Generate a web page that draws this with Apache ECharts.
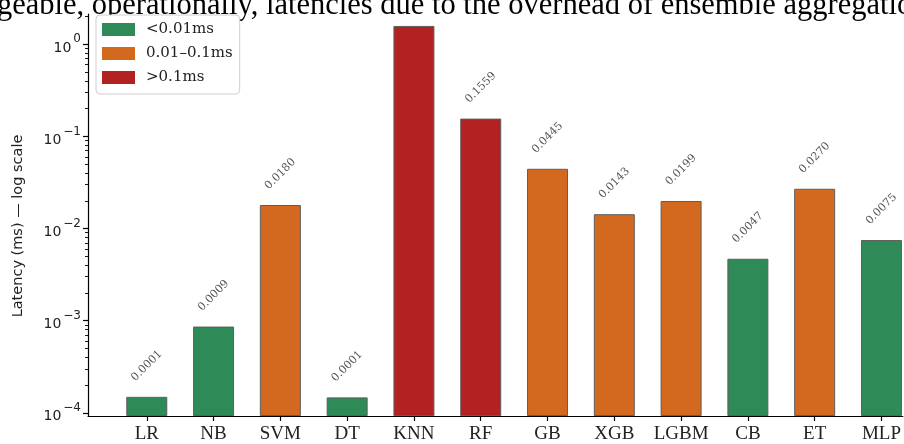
<!DOCTYPE html>
<html>
<head>
<meta charset="utf-8">
<script src="https://cdn.jsdelivr.net/npm/echarts@6/dist/echarts.min.js"></script>
<style>
  html, body { margin: 0; padding: 0; background: #fff; }
  #chart { width: 904px; height: 444px; }
</style>
</head>
<body>
<div id="chart"></div>
<script>
// Inference latency per model (milliseconds), log scale
const models = ['LR', 'NB', 'SVM', 'DT', 'KNN', 'RF', 'GB', 'XGB', 'LGBM', 'CB', 'ET', 'MLP'];
const latencyMs = [0.000149, 0.000863, 0.0180, 0.000147, 1.58, 0.1559, 0.0445, 0.0143, 0.0199, 0.0047, 0.0270, 0.0075];
// latency tier of each model: 0 = <0.01ms, 1 = 0.01–0.1ms, 2 = >0.1ms
const tierOf = [0, 0, 1, 0, 2, 2, 1, 1, 1, 0, 1, 0];
const tierNames = ['<0.01ms', '0.01–0.1ms', '>0.1ms'];
const tierColors = ['#2e8b57', '#d2691e', '#b22222'];
// models whose value label sits outside the visible area
const unlabeled = ['KNN'];

// y axis: decade ticks and the 2..9 minor ticks inside each decade
const yMajorTicks = [1e-4, 1e-3, 1e-2, 1e-1, 1];
const yMinorSteps = [2, 3, 4, 5, 6, 7, 8, 9];
const yMin = 9.23e-5;
const yMax = 2.13;
const yAxisTitle = 'Latency (ms) — log scale';

// running text of the page above the figure
const pageText = 'geable, operationally, latencies due to the overhead of ensemble aggregation';

const yMinorTicks = [];
yMajorTicks.forEach(d => yMinorSteps.forEach(s => { if (d * s <= yMax) yMinorTicks.push(d * s); }));
const xTicks = models.map((_, i) => i);

const serif = 'DejaVu Serif';
const sans = 'DejaVu Sans';
const ink = '#222';

const series = tierNames.map((name, t) => ({
  name,
  type: 'bar',
  yAxisIndex: 0,
  barWidth: 41,
  barGap: '-100%',
  itemStyle: { color: tierColors[t], borderColor: '#5e5e5e', borderWidth: 1 },
  label: {
    show: true,
    position: 'top',
    distance: 31,
    rotate: 45,
    align: 'center',
    verticalAlign: 'middle',
    fontFamily: serif,
    fontSize: 11,
    color: '#555',
    formatter: p => p.value[1].toFixed(4)
  },
  data: models
    .map((m, i) => ({ m, i }))
    .filter(d => tierOf[d.i] === t)
    .map(d => ({
      value: [d.i, latencyMs[d.i]],
      label: unlabeled.includes(d.m) ? { show: false } : undefined
    }))
}));

const supDigits = e => (e < 0 ? '−' + (-e) : String(e));

const logAxisBase = {
  type: 'log',
  logBase: 10,
  position: 'left',
  min: yMin,
  max: yMax,
  startValue: yMin,
  splitLine: { show: false }
};

const chart = echarts.init(document.getElementById('chart'), null, { renderer: 'canvas' });
chart.setOption({
  animation: false,
  backgroundColor: '#fff',
  grid: { left: 88, top: 14, right: 0, height: 402.5, containLabel: false },
  legend: {
    orient: 'vertical',
    left: 96,
    top: 15,
    icon: 'rect',
    itemWidth: 33,
    itemHeight: 13,
    itemGap: 9,
    padding: [7, 7, 9, 6],
    backgroundColor: '#fff',
    borderColor: '#cfcfcf',
    borderWidth: 1,
    borderRadius: 4,
    itemStyle: { borderWidth: 0 },
    textStyle: { fontFamily: serif, fontSize: 15, color: ink, padding: [0, 0, 0, 6] },
    data: tierNames
  },
  xAxis: {
    type: 'value',
    min: -0.88,
    max: 11.32,
    axisLine: { show: true, onZero: false, lineStyle: { color: '#000', width: 1.2 } },
    axisTick: { show: true, length: 5, customValues: xTicks, lineStyle: { color: '#000', width: 1.2 } },
    axisLabel: {
      customValues: xTicks,
      formatter: v => models[Math.round(v)],
      fontFamily: 'Liberation Serif',
      fontSize: 19,
      color: ink,
      margin: 9
    },
    splitLine: { show: false }
  },
  yAxis: [
    Object.assign({}, logAxisBase, {
      axisLine: { show: true, onZero: false, lineStyle: { color: '#000', width: 1.2 } },
      axisTick: { show: true, length: 5, customValues: yMajorTicks, lineStyle: { color: '#000', width: 1.2 } },
      axisLabel: {
        customValues: yMajorTicks,
        margin: 7,
        formatter: v => '{b|10}{s|' + supDigits(Math.round(Math.log10(v))) + '}',
        rich: {
          b: { fontFamily: sans, fontSize: 14, color: ink, lineHeight: 22, verticalAlign: 'bottom' },
          s: { fontFamily: sans, fontSize: 12, color: ink, verticalAlign: 'top', lineHeight: 11, padding: [0, 0, 0, 2] }
        }
      }
    }),
    Object.assign({}, logAxisBase, {
      axisLine: { show: false, onZero: false },
      axisTick: { show: true, length: 3, customValues: yMinorTicks, lineStyle: { color: '#000', width: 0.9 } },
      axisLabel: { show: false }
    })
  ],
  graphic: [
    {
      type: 'text',
      x: 18,
      y: 226,
      rotation: Math.PI / 2,
      silent: true,
      style: {
        text: yAxisTitle,
        font: '14.5px "DejaVu Sans"',
        fill: ink,
        align: 'center',
        verticalAlign: 'middle'
      }
    },
    {
      type: 'text',
      x: -3,
      y: 21.5,
      silent: true,
      style: { text: pageText, font: '30.5px "Liberation Serif"', fill: '#000', verticalAlign: 'bottom' }
    }
  ],
  series
});
</script>
</body>
</html>
